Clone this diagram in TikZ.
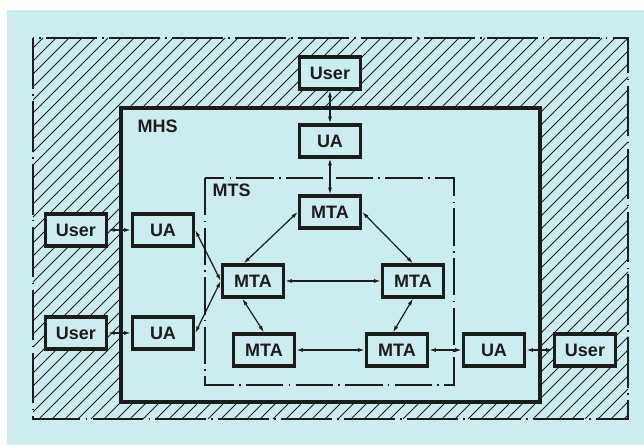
\documentclass[tikz,border=0pt]{standalone}
\usepackage{fontspec}
\setmainfont{Liberation Sans}
\usetikzlibrary{arrows.meta,positioning}
\definecolor{paper}{HTML}{CBEDEF}
\definecolor{ink}{HTML}{1C1C1C}

\begin{document}
\begin{tikzpicture}[
    x=0.75pt, y=-0.75pt,
    font=\fontsize{13.5}{15}\selectfont\bfseries,
    block/.style={draw=ink, fill=paper, text=ink, line width=2.4pt,
                  minimum width=46pt, minimum height=24pt, inner sep=0pt},
    arrow/.style={{Latex[length=5pt,width=3pt]}-{Latex[length=5pt,width=3pt]},
                  line width=0.9pt, draw=ink},
    region/.style={draw=ink, line width=1.1pt,
                  dash pattern=on 38pt off 4pt on 1.2pt off 4pt}
]
  \useasboundingbox (0,0) rectangle (644,445);
  \fill[white] (0,0) rectangle (644,445);
  \fill[paper] (7,10) rectangle (644,445);

  % hatched band between the outer border and the MHS
  \begin{scope}
    \clip (33,38) rectangle (628,419);
    \foreach \i in {-390,-377,...,628}
      \draw[ink, line width=0.6pt] (\i,419) -- ++(381,-381);
  \end{scope}
  \draw[ink, fill=paper, line width=2.4pt] (121,108) rectangle (540,402);
  \draw[region] (33,38) rectangle (628,419);
  \draw[region, line width=0.8pt, dash pattern=on 28pt off 4pt on 1.2pt off 4pt]
    (205,178) rectangle (454,385);

  \node[anchor=west, text=ink] (mhs) at (133,126) {MHS};
  \node[anchor=west, text=ink] (mts) at (208,190) {MTS};

  % message transfer agents
  \node[block] (mtaT) at (330,212) {MTA};
  \node[block] (mtaL) at (253,281) {MTA};
  \node[block] (mtaR) at (413,281) {MTA};
  \node[block] (mtaBL) at (264,350) {MTA};
  \node[block] (mtaBR) at (397,350) {MTA};

  % user agents and users
  \node[block] (uaT) at (330,141) {UA};
  \node[block] (userT) at (330,73) {User};
  \node[block] (uaA) at (163,230) {UA};
  \node[block] (uaB) at (163,333) {UA};
  \node[block, left=17pt of uaA] (userA) {User};
  \node[block, left=17pt of uaB] (userB) {User};
  \node[block] (uaR) at (494,350) {UA};
  \node[block] (userR) at (585,350) {User};

  \draw[arrow] (userT) -- (uaT);
  \draw[arrow] (uaT) -- (mtaT);
  \draw[arrow] (userA) -- (uaA);
  \draw[arrow] (userB) -- (uaB);
  \draw[arrow] (uaA.east) -- (mtaL.west);
  \draw[arrow] (uaB.east) -- (mtaL.west);
  \draw[arrow] ([xshift=-7pt]mtaL.north) -- (mtaT.west);
  \draw[arrow] (mtaT.east) -- (mtaR.north);
  \draw[arrow] (mtaL) -- (mtaR);
  \draw[arrow] ([xshift=-8pt]mtaL.south) -- (mtaBL.north);
  \draw[arrow] (mtaR.south) -- ([xshift=-3pt]mtaBR.north);
  \draw[arrow] (mtaBL) -- (mtaBR);
  \draw[arrow] (mtaBR) -- (uaR);
  \draw[arrow] (uaR) -- (userR);
\end{tikzpicture}
\end{document}
